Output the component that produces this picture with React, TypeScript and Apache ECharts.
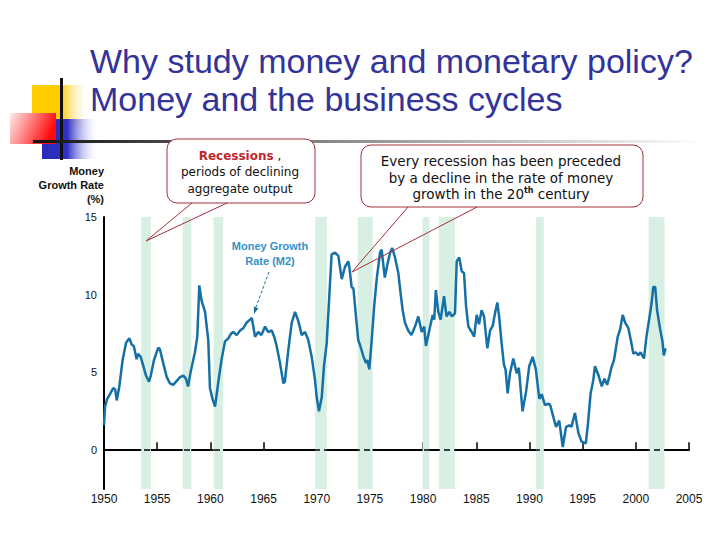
import React, { useEffect, useRef } from "react";
import * as echarts from "echarts";

// Money growth rate (M2), %
const years: number[] = [
  1950.0, 1950.1, 1950.3, 1950.56, 1950.87, 1951.05, 1951.2, 1951.44, 1951.75, 1952.07,
  1952.38, 1952.6, 1952.8, 1953.07, 1953.2, 1953.45, 1953.7, 1953.95, 1954.23, 1954.4,
  1954.7, 1955.1, 1955.25, 1955.6, 1955.9, 1956.2, 1956.5, 1956.9, 1957.15, 1957.45,
  1957.7, 1957.9, 1958.15, 1958.55, 1958.77, 1958.96, 1959.18, 1959.5, 1959.8, 1959.96,
  1960.2, 1960.44, 1960.75, 1961.07, 1961.38, 1961.7, 1961.95, 1962.15, 1962.47, 1962.79,
  1963.1, 1963.4, 1963.73, 1963.9, 1964.2, 1964.5, 1964.8, 1965.14, 1965.45, 1965.77,
  1966.0, 1966.23, 1966.55, 1966.86, 1967.0, 1967.33, 1967.65, 1967.96, 1968.27, 1968.59,
  1968.9, 1969.2, 1969.53, 1969.84, 1970.0, 1970.21, 1970.47, 1970.68, 1970.94, 1971.18,
  1971.4, 1971.72, 1972.03, 1972.35, 1972.66, 1972.97, 1973.1, 1973.28, 1973.45, 1973.69,
  1973.9, 1974.1, 1974.4, 1974.63, 1974.75, 1974.94, 1975.17, 1975.4, 1975.64, 1975.95,
  1976.1, 1976.4, 1976.66, 1976.9, 1977.1, 1977.36, 1977.67, 1977.9, 1978.08, 1978.3,
  1978.6, 1978.9, 1979.24, 1979.55, 1979.87, 1980.1, 1980.27, 1980.58, 1980.9, 1981.05,
  1981.2, 1981.43, 1981.65, 1981.97, 1982.2, 1982.47, 1982.7, 1983.0, 1983.16, 1983.4,
  1983.63, 1983.85, 1984.04, 1984.26, 1984.57, 1984.8, 1985.04, 1985.26, 1985.5, 1985.73,
  1986.04, 1986.3, 1986.55, 1986.76, 1986.98, 1987.15, 1987.38, 1987.6, 1987.75, 1987.95,
  1988.17, 1988.48, 1988.8, 1989.0, 1989.35, 1989.68, 1989.98, 1990.3, 1990.6, 1990.93,
  1991.15, 1991.46, 1991.77, 1991.95, 1992.3, 1992.5, 1992.8, 1993.13, 1993.44, 1993.75,
  1993.95, 1994.28, 1994.6, 1994.9, 1995.3, 1995.5, 1995.75, 1996.0, 1996.16, 1996.5,
  1996.8, 1997.05, 1997.3, 1997.5, 1997.7, 1997.95, 1998.3, 1998.5, 1998.77, 1999.0,
  1999.3, 1999.55, 1999.77, 2000.0, 2000.24, 2000.45, 2000.6, 2000.77, 2001.0, 2001.25,
  2001.48, 2001.64, 2001.82, 2002.0, 2002.27, 2002.5, 2002.63, 2002.8,
];
const growth: number[] = [
  1.6, 2.8, 3.3, 3.6, 4.0, 3.9, 3.2, 4.1, 5.8, 6.9,
  7.2, 6.8, 6.7, 5.85, 6.2, 6.0, 5.4, 4.8, 4.4, 4.8,
  5.8, 6.6, 6.5, 5.5, 4.7, 4.3, 4.2, 4.5, 4.7, 4.8,
  4.6, 4.1, 5.05, 6.3, 7.3, 10.6, 9.6, 8.9, 7.1, 4.0,
  3.3, 2.8, 4.4, 5.9, 7.0, 7.2, 7.5, 7.6, 7.4, 7.7,
  7.85, 8.2, 8.4, 8.5, 7.3, 7.6, 7.4, 7.95, 7.6, 7.7,
  7.3, 6.7, 5.6, 4.3, 4.4, 6.45, 8.2, 8.9, 8.3, 7.4,
  7.6, 7.1, 6.0, 4.5, 3.4, 2.5, 3.4, 5.4, 6.9, 9.9,
  12.6, 12.7, 12.5, 11.0, 11.8, 12.15, 11.6, 10.5, 10.4, 8.6,
  7.1, 6.7, 6.0, 5.6, 5.8, 5.2, 7.1, 9.25, 11.0, 12.7,
  12.9, 11.1, 12.0, 12.7, 13.0, 12.4, 11.4, 10.0, 9.0, 8.2,
  7.7, 7.4, 7.95, 8.6, 7.6, 7.95, 6.7, 7.7, 8.7, 8.4,
  10.3, 8.9, 8.4, 9.9, 8.6, 8.9, 8.6, 8.8, 12.15, 12.4,
  11.5, 11.4, 9.25, 7.95, 7.6, 7.3, 8.7, 8.1, 9.0, 8.6,
  6.55, 7.7, 8.0, 8.8, 9.5, 8.6, 6.9, 5.5, 5.2, 3.65,
  4.95, 5.9, 4.95, 5.3, 2.5, 3.75, 5.4, 6.0, 5.2, 3.3,
  3.6, 2.9, 3.0, 2.9, 2.0, 1.5, 1.9, 0.2, 1.5, 1.6,
  1.5, 2.4, 1.1, 0.55, 0.43, 1.7, 3.65, 4.5, 5.4, 4.8,
  4.1, 4.6, 4.2, 4.7, 5.3, 5.8, 7.3, 7.7, 8.7, 8.2,
  7.85, 7.0, 6.2, 6.3, 6.1, 6.3, 6.1, 5.9, 7.3, 8.4,
  9.45, 10.5, 10.5, 9.0, 7.85, 7.0, 6.1, 6.55,
];

// Recession periods (shaded bands), start and end years
const recessionStarts: number[] = [1953.5, 1957.4, 1960.3, 1969.85, 1973.85, 1979.95, 1981.5, 1990.6, 2001.2];
const recessionEnds: number[] = [1954.4, 1958.2, 1961.2, 1970.95, 1975.25, 1980.6, 1983.0, 1991.35, 2002.7];

const xTicks = { min: 1950, max: 2005, step: 5 };
const yTicks = { min: -2.5, max: 15, step: 2.5, labelStep: 5 };

const titleLines: string[] = ["Why study money and monetary policy?", "Money and the business cycles"];
const yAxisTitle: string[] = ["Money", "Growth Rate", "(%)"];
const seriesLabel: string[] = ["Money Growth", "Rate (M2)"];
const callout1Lines: string[] = ["periods of declining", "aggregate output"];
const callout2Lines: string[] = ["Every recession has been preceded", "by a decline in the rate of money"];

export default function App() {
  const ref = useRef<HTMLDivElement>(null);
  useEffect(() => {
    if (!ref.current) return;
    const chart = echarts.init(ref.current, undefined, { renderer: "svg" });
    const LG = echarts.graphic.LinearGradient;
    const red = "#a3303a";
    const z = 100;
    const sans = "Liberation Sans, Arial, sans-serif";
    const dv = "DejaVu Sans, Verdana, sans-serif";

    const graphic: any[] = [
      // logo
      { type: "rect", z, shape: { x: 32, y: 85, width: 52, height: 40 },
        style: { fill: new LG(0, 0, 1, 0, [{ offset: 0, color: "#ffcc00" }, { offset: 0.55, color: "#ffcc00" }, { offset: 1, color: "rgba(255,240,200,0.2)" }]) } },
      { type: "rect", z, shape: { x: 42, y: 119, width: 56, height: 40 },
        style: { fill: new LG(0, 0, 1, 0, [{ offset: 0, color: "#2a2ab8" }, { offset: 0.45, color: "#3030c8" }, { offset: 1, color: "rgba(255,255,255,0.1)" }]) } },
      { type: "rect", z, shape: { x: 10, y: 113, width: 46, height: 31 },
        style: { fill: new LG(0, 0, 1, 0.3, [{ offset: 0, color: "#ffecec" }, { offset: 1, color: "#ff0a0a" }]) } },
      { type: "rect", z, shape: { x: 60, y: 78, width: 3, height: 82 }, style: { fill: "#111" } },
      { type: "rect", z, shape: { x: 33, y: 140, width: 670, height: 3 },
        style: { fill: new LG(0, 0, 1, 0, [{ offset: 0, color: "#111" }, { offset: 0.45, color: "#8a8a8a" }, { offset: 1, color: "#ffffff" }]) } },
      // title
      ...titleLines.map((t, i) => ({
        type: "text", z, x: 90, y: 61 + i * 37.5,
        style: { text: t, fill: "#333399", fontFamily: sans, fontSize: 34, align: "left", verticalAlign: "middle", textAlign: "left", textVerticalAlign: "middle" },
      })),
      // y axis title
      ...yAxisTitle.map((t, i) => ({
        type: "text", z, x: 104, y: 171 + i * 14,
        style: { text: t, fill: "#111", fontFamily: sans, fontWeight: "bold", fontSize: 11, align: "right", verticalAlign: "middle", textAlign: "right", textVerticalAlign: "middle" },
      })),
      // series label
      ...seriesLabel.map((t, i) => ({
        type: "text", z, x: 270, y: 246 + i * 15,
        style: { text: t, fill: "#3592c6", fontFamily: sans, fontWeight: "bold", fontSize: 11, align: "center", verticalAlign: "middle", textAlign: "center", textVerticalAlign: "middle" },
      })),
      { type: "line", z, shape: { x1: 269, y1: 272, x2: 256, y2: 307 }, style: { stroke: "#1f6f9c", lineWidth: 1, lineDash: [3, 2] } },
      { type: "polygon", z, shape: { points: [[254, 314], [258.4, 308.3], [253.8, 306.5]] }, style: { fill: "#1f6f9c" } },
      // callout 1
      { type: "rect", z, shape: { x: 167, y: 139, width: 148, height: 64, r: 10 }, style: { fill: "#fff", stroke: red, lineWidth: 1 } },
      { type: "polyline", z, shape: { points: [[192, 203], [146, 241], [227, 203]] }, style: { stroke: red, lineWidth: 1, fill: null } },
      { type: "text", z, x: 240, y: 155.5,
        style: { text: "{r|Recessions} ,", rich: { r: { fontWeight: "bold", fill: "#c0282d", fontFamily: dv, fontSize: 12 } },
          fill: "#111", fontFamily: dv, fontSize: 12, align: "center", verticalAlign: "middle", textAlign: "center", textVerticalAlign: "middle" } },
      ...callout1Lines.map((t, i) => ({
        type: "text", z, x: 240, y: 172 + i * 16.5,
        style: { text: t, fill: "#111", fontFamily: dv, fontSize: 12, align: "center", verticalAlign: "middle", textAlign: "center", textVerticalAlign: "middle" },
      })),
      // callout 2
      { type: "rect", z, shape: { x: 361, y: 145, width: 282, height: 62, r: 10 }, style: { fill: "#fff", stroke: red, lineWidth: 1 } },
      { type: "polyline", z, shape: { points: [[408, 207], [352, 272], [477, 207]] }, style: { stroke: red, lineWidth: 1, fill: null } },
      ...callout2Lines.map((t, i) => ({
        type: "text", z, x: 501, y: 161 + i * 16.5,
        style: { text: t, fill: "#111", fontFamily: dv, fontSize: 13.5, align: "center", verticalAlign: "middle", textAlign: "center", textVerticalAlign: "middle" },
      })),
      { type: "text", z, x: 501, y: 194,
        style: { text: "{n|growth in the 20}{s|th}{n| century}",
          rich: { n: { fontFamily: dv, fontSize: 13.5, fill: "#111", lineHeight: 16 }, s: { fontFamily: dv, fontSize: 8, fontWeight: "bold", fill: "#111", verticalAlign: "top", lineHeight: 16 } },
          align: "center", verticalAlign: "middle", textAlign: "center", textVerticalAlign: "middle" } },
    ];

    chart.setOption({
      animation: false,
      backgroundColor: "#ffffff",
      grid: { left: 104, right: 31, top: 217, bottom: 51 },
      xAxis: {
        type: "value", min: xTicks.min, max: xTicks.max, interval: xTicks.step,
        axisLine: { show: true, lineStyle: { color: "#000", width: 2 } },
        axisTick: { show: true, inside: true, length: 8, lineStyle: { color: "#000", width: 1.5 } },
        axisLabel: { color: "#111", fontSize: 12, fontFamily: sans, margin: 4, formatter: (v: number) => String(v) },
        splitLine: { show: false },
      },
      yAxis: {
        type: "value", min: yTicks.min, max: yTicks.max, interval: yTicks.step,
        axisLine: { show: true, lineStyle: { color: "#000", width: 2 } },
        axisTick: { show: false },
        axisLabel: { color: "#111", fontSize: 11, fontFamily: sans, margin: 7,
          formatter: (v: number) => (Math.abs(v % yTicks.labelStep) < 1e-9 ? String(v) : "") },
        splitLine: { show: false },
      },
      series: [
        {
          type: "line",
          data: years.map((y, i) => [y, growth[i]]),
          showSymbol: false,
          symbol: "none",
          lineStyle: { color: "#1570a6", width: 2.5 },
          z: 5,
          markArea: {
            silent: true,
            itemStyle: { color: "#d8f0e4" },
            data: recessionStarts.map((s, i) => [{ xAxis: s }, { xAxis: recessionEnds[i] }]),
          },
          markLine: {
            silent: true,
            symbol: "none",
            label: { show: false },
            lineStyle: { color: "#000", type: [6, 4], width: 1.5 },
            data: [{ yAxis: 0 }],
          },
        },
      ],
      graphic,
    });
    return () => chart.dispose();
  }, []);
  return (
    <div
      ref={ref}
      style={{ position: "fixed", left: 0, top: 0, width: 720, height: 540, background: "#fff" }}
    />
  );
}
